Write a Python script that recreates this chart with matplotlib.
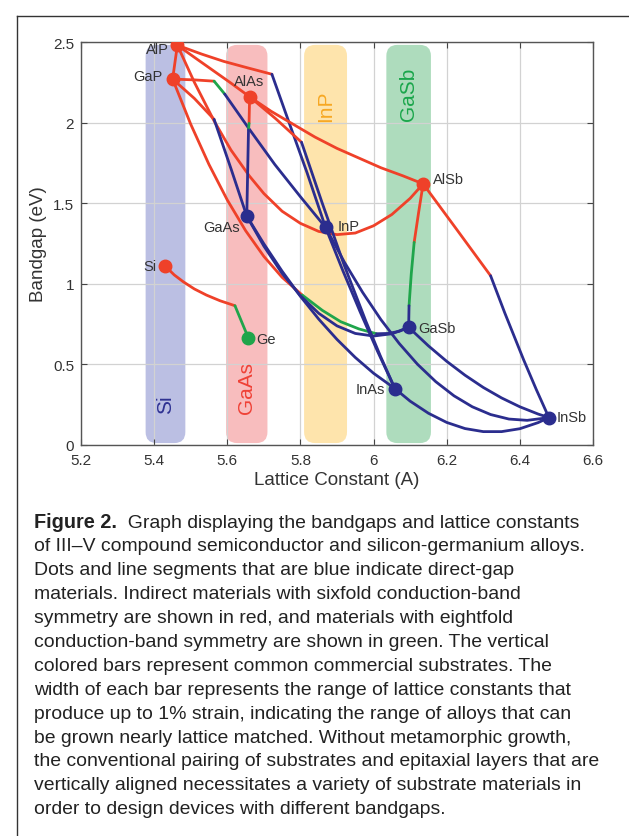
import matplotlib
matplotlib.use("Agg")
import matplotlib.pyplot as plt
from matplotlib.patches import FancyBboxPatch
from matplotlib.lines import Line2D

plt.rcParams['font.family'] = ['Liberation Sans', 'DejaVu Sans']

# ---------------- data ----------------
RED = '#ef4129'
BLUE = '#2b2d8e'
GREEN = '#1fa54b'

binary_names = ['AlP', 'GaP', 'AlAs', 'GaAs', 'InP', 'AlSb', 'GaSb', 'InAs', 'InSb', 'Si', 'Ge']
binary_a = [5.4635, 5.4505, 5.6611, 5.6533, 5.8687, 6.1355, 6.0959, 6.0583, 6.4794, 5.431, 5.658]
binary_eg = [2.48, 2.27, 2.16, 1.42, 1.35, 1.62, 0.73, 0.35, 0.17, 1.108, 0.662]
binary_color = ['r', 'r', 'r', 'b', 'b', 'r', 'b', 'b', 'b', 'r', 'g']
label_x = [5.44, 5.424, 5.659, 5.634, 5.902, 6.162, 6.121, 6.031, 6.50, 5.405, 5.68]
label_y = [2.455, 2.29, 2.26, 1.352, 1.36, 1.65, 0.726, 0.347, 0.174, 1.11, 0.66]
label_ha = ['right', 'right', 'center', 'right', 'left', 'left', 'left', 'right', 'left', 'right', 'left']

# alloy segments (lattice constant, bandgap)
AlGaP_r_x = [5.4635, 5.4505]; AlGaP_r_y = [2.48, 2.27]

AlInP_r_x = [5.4635, 5.53, 5.59, 5.655, 5.722]; AlInP_r_y = [2.48, 2.425, 2.38, 2.34, 2.30]
AlInP_b_x = [5.722, 5.7674, 5.818, 5.8687]; AlInP_b_y = [2.30, 2.01, 1.69, 1.35]

AlPAs_r_x = [5.4635, 5.51, 5.56, 5.61, 5.6611]; AlPAs_r_y = [2.48, 2.405, 2.325, 2.245, 2.16]

AlPSb_r_x = [5.4635, 5.51, 5.564, 5.61, 5.66, 5.70, 5.75, 5.80, 5.85, 5.90, 5.95, 6.00, 6.05, 6.10, 6.1355]
AlPSb_r_y = [2.48, 2.25, 2.01, 1.83, 1.67, 1.56, 1.45, 1.375, 1.325, 1.305, 1.315, 1.36, 1.43, 1.53, 1.62]

GaInP_r_x = [5.4505, 5.51, 5.564]; GaInP_r_y = [2.27, 2.265, 2.257]
GaInP_g_x = [5.564, 5.593]; GaInP_g_y = [2.257, 2.177]
GaInP_b_x = [5.593, 5.66, 5.73, 5.80, 5.8687]; GaInP_b_y = [2.177, 1.96, 1.74, 1.54, 1.35]

GaPAs_r_x = [5.4505, 5.51, 5.564]; GaPAs_r_y = [2.27, 2.15, 2.02]
GaPAs_b_x = [5.564, 5.61, 5.6533]; GaPAs_b_y = [2.02, 1.715, 1.42]

GaPSb_r_x = [5.4505, 5.50, 5.55, 5.60, 5.65, 5.70, 5.75, 5.805]
GaPSb_r_y = [2.27, 1.99, 1.74, 1.52, 1.33, 1.17, 1.04, 0.93]
GaPSb_g_x = [5.805, 5.86, 5.91, 5.96, 6.008]; GaPSb_g_y = [0.93, 0.835, 0.765, 0.72, 0.69]
GaPSb_b_x = [6.008, 6.04, 6.07, 6.0959]; GaPSb_b_y = [0.69, 0.692, 0.705, 0.73]

AlGaAs_r_x = [5.6611, 5.6595]; AlGaAs_r_y = [2.16, 1.995]
AlGaAs_g_x = [5.6595, 5.658]; AlGaAs_g_y = [1.995, 1.955]
AlGaAs_b_x = [5.658, 5.6533]; AlGaAs_b_y = [1.955, 1.42]

AlInAs_r_x = [5.6611, 5.732, 5.803]; AlInAs_r_y = [2.16, 2.025, 1.878]
AlInAs_b_x = [5.803, 5.8597, 5.9193, 5.9789, 6.0186, 6.0583]; AlInAs_b_y = [1.878, 1.50, 1.118, 0.768, 0.552, 0.35]

AlAsSb_r_x = [5.6611, 5.72, 5.78, 5.84, 5.90, 5.96, 6.02, 6.08, 6.1355]
AlAsSb_r_y = [2.16, 2.07, 1.99, 1.91, 1.84, 1.78, 1.72, 1.67, 1.62]

GaAsSb_b_x = [5.6533, 5.70, 5.75, 5.80, 5.85, 5.90, 5.95, 6.00, 6.05, 6.0959]
GaAsSb_b_y = [1.42, 1.234, 1.064, 0.926, 0.817, 0.739, 0.692, 0.676, 0.69, 0.73]

GaInAs_b_x = [5.6533, 5.70, 5.75, 5.80, 5.85, 5.90, 5.95, 6.00, 6.0583]
GaInAs_b_y = [1.42, 1.248, 1.078, 0.922, 0.781, 0.655, 0.543, 0.445, 0.35]

InPAs_b_x = [5.8687, 5.9161, 5.9635, 6.0109, 6.0583]; InPAs_b_y = [1.35, 1.081, 0.825, 0.581, 0.35]

InPSb_b_x = [5.8687, 5.92, 5.97, 6.02, 6.07, 6.12, 6.17, 6.22, 6.27, 6.32, 6.37, 6.42, 6.4794]
InPSb_b_y = [1.35, 1.135, 0.947, 0.778, 0.63, 0.501, 0.393, 0.305, 0.237, 0.189, 0.161, 0.153, 0.17]

InAsSb_b_x = [6.0583, 6.10, 6.15, 6.20, 6.25, 6.30, 6.35, 6.40, 6.45, 6.4794]
InAsSb_b_y = [0.35, 0.272, 0.197, 0.14, 0.102, 0.083, 0.083, 0.101, 0.139, 0.17]

GaInSb_b_x = [6.0959, 6.15, 6.20, 6.25, 6.30, 6.35, 6.40, 6.45, 6.4794]
GaInSb_b_y = [0.73, 0.615, 0.519, 0.433, 0.357, 0.292, 0.237, 0.192, 0.17]

AlGaSb_r_x = [6.1355, 6.123, 6.111]; AlGaSb_r_y = [1.62, 1.44, 1.257]
AlGaSb_g_x = [6.111, 6.103, 6.097]; AlGaSb_g_y = [1.257, 1.06, 0.864]
AlGaSb_b_x = [6.097, 6.0959]; AlGaSb_b_y = [0.864, 0.73]

AlInSb_r_x = [6.1355, 6.228, 6.32]; AlInSb_r_y = [1.62, 1.335, 1.05]
AlInSb_b_x = [6.32, 6.359, 6.4106, 6.445, 6.4794]; AlInSb_b_y = [1.05, 0.818, 0.527, 0.344, 0.17]

SiGe_r_x = [5.431, 5.455, 5.48, 5.51, 5.543, 5.58, 5.621]
SiGe_r_y = [1.108, 1.055, 1.012, 0.968, 0.93, 0.895, 0.864]
SiGe_g_x = [5.621, 5.658]; SiGe_g_y = [0.864, 0.662]

# substrate bars: center lattice constant, +/- 1 %
substrate_names = ['Si', 'GaAs', 'InP', 'GaSb']
substrate_a = [5.431, 5.6533, 5.8687, 6.0959]
substrate_fill = ['#b8bce2', '#f8babb', '#fee3a8', '#aadbba']
substrate_text_color = ['#2e3192', '#ef4136', '#f7a823', '#1aa64b']
substrate_text_y = [0.254, 0.36, 2.11, 2.18]

x_ticks = [5.2, 5.4, 5.6, 5.8, 6.0, 6.2, 6.4, 6.6]
x_ticklabels = ['5.2', '5.4', '5.6', '5.8', '6', '6.2', '6.4', '6.6']
y_ticks = [0, 0.5, 1, 1.5, 2, 2.5]
y_ticklabels = ['0', '0.5', '1', '1.5', '2', '2.5']

caption_bold = 'Figure 2.'
caption_lines = [
    '  Graph displaying the bandgaps and lattice constants',
    'of III\u2013V compound semiconductor and silicon-germanium alloys.',
    'Dots and line segments that are blue indicate direct-gap',
    'materials. Indirect materials with sixfold conduction-band',
    'symmetry are shown in red, and materials with eightfold',
    'conduction-band symmetry are shown in green. The vertical',
    'colored bars represent common commercial substrates. The',
    'width of each bar represents the range of lattice constants that',
    'produce up to 1% strain, indicating the range of alloys that can',
    'be grown nearly lattice matched. Without metamorphic growth,',
    'the conventional pairing of substrates and epitaxial layers that are',
    'vertically aligned necessitates a variety of substrate materials in',
    'order to design devices with different bandgaps.',
]

segments = [
    (AlGaP_r_x, AlGaP_r_y, 'r'),
    (AlInP_r_x, AlInP_r_y, 'r'), (AlInP_b_x, AlInP_b_y, 'b'),
    (AlPAs_r_x, AlPAs_r_y, 'r'),
    (AlPSb_r_x, AlPSb_r_y, 'r'),
    (GaInP_r_x, GaInP_r_y, 'r'), (GaInP_g_x, GaInP_g_y, 'g'), (GaInP_b_x, GaInP_b_y, 'b'),
    (GaPAs_r_x, GaPAs_r_y, 'r'), (GaPAs_b_x, GaPAs_b_y, 'b'),
    (GaPSb_r_x, GaPSb_r_y, 'r'), (GaPSb_g_x, GaPSb_g_y, 'g'), (GaPSb_b_x, GaPSb_b_y, 'b'),
    (AlGaAs_r_x, AlGaAs_r_y, 'r'), (AlGaAs_g_x, AlGaAs_g_y, 'g'), (AlGaAs_b_x, AlGaAs_b_y, 'b'),
    (AlInAs_r_x, AlInAs_r_y, 'r'), (AlInAs_b_x, AlInAs_b_y, 'b'),
    (AlAsSb_r_x, AlAsSb_r_y, 'r'),
    (GaAsSb_b_x, GaAsSb_b_y, 'b'),
    (GaInAs_b_x, GaInAs_b_y, 'b'),
    (InPAs_b_x, InPAs_b_y, 'b'),
    (InPSb_b_x, InPSb_b_y, 'b'),
    (InAsSb_b_x, InAsSb_b_y, 'b'),
    (GaInSb_b_x, GaInSb_b_y, 'b'),
    (AlGaSb_r_x, AlGaSb_r_y, 'r'), (AlGaSb_g_x, AlGaSb_g_y, 'g'), (AlGaSb_b_x, AlGaSb_b_y, 'b'),
    (AlInSb_r_x, AlInSb_r_y, 'r'), (AlInSb_b_x, AlInSb_b_y, 'b'),
    (SiGe_r_x, SiGe_r_y, 'r'), (SiGe_g_x, SiGe_g_y, 'g'),
]
cmap = {'r': RED, 'b': BLUE, 'g': GREEN}

# ---------------- figure ----------------
W, H = 629, 837
fig = plt.figure(figsize=(W / 100, H / 100), dpi=100)
fig.patch.set_facecolor('white')

# frame (left and top edges visible)
FX, FY = 17, 17
fig.add_artist(Line2D([FX / W, FX / W], [0, 1 - FY / H], color='#333333', lw=1.0))
fig.add_artist(Line2D([FX / W, 1], [1 - FY / H, 1 - FY / H], color='#333333', lw=1.0))

ax_l, ax_r, ax_t, ax_b = 81, 593, 43, 446
ax = fig.add_axes([ax_l / W, 1 - ax_b / H, (ax_r - ax_l) / W, (ax_b - ax_t) / H])
ax.set_xlim(5.2, 6.6)
ax.set_ylim(0, 2.5)
ax.set_axisbelow(True)
ax.grid(True, color='#d2d2d2', lw=0.9)

xpix = (ax_r - ax_l) / 1.4
ypix = (ax_b - ax_t) / 2.5
for name, a0, fc, tc, ty in zip(substrate_names, substrate_a, substrate_fill,
                                 substrate_text_color, substrate_text_y):
    lo, hi = a0 * 0.99, a0 * 1.01
    bar = FancyBboxPatch((lo, 0.012), hi - lo, 2.47,
                         boxstyle='round,pad=0,rounding_size=0.03',
                         mutation_aspect=xpix / ypix,
                         facecolor=fc, edgecolor='none', alpha=0.95, zorder=0.3)
    ax.add_patch(bar)
    ax.text(a0, ty, name, rotation=90, ha='center', va='center', color=tc,
            fontsize=15, zorder=1)

for xs, ys, c in segments:
    ax.plot(xs, ys, color=cmap[c], lw=2.0, solid_capstyle='round',
            solid_joinstyle='round', zorder=2)

for n, a, e, c, lx, ly, ha in zip(binary_names, binary_a, binary_eg, binary_color,
                                  label_x, label_y, label_ha):
    ax.plot([a], [e], 'o', color=cmap[c], ms=9, zorder=3)
    ax.text(lx, ly, n, ha=ha, va='center', fontsize=10.5, color='#333333', zorder=4)

ax.set_xticks(x_ticks)
ax.set_xticklabels(x_ticklabels)
ax.set_yticks(y_ticks)
ax.set_yticklabels(y_ticklabels)
ax.tick_params(direction='in', length=4, width=0.8, colors='#444444', labelcolor='#333333',
               labelsize=11, top=True, right=True)
ax.tick_params(axis='x', pad=6)
ax.tick_params(axis='y', pad=5)
for s in ax.spines.values():
    s.set_color('#555555')
    s.set_linewidth(1.0)
ax.set_xlabel('Lattice Constant (A)', fontsize=13.5, color='#333333', labelpad=3)
ax.set_ylabel('Bandgap (eV)', fontsize=13.5, color='#333333', labelpad=4)

# ---------------- caption ----------------
cap_x = 34 / W
cap_y0 = 523
cap_dy = 23.9
cap_fs = 13.95
renderer = fig.canvas.get_renderer()
tb = fig.text(cap_x, 1 - cap_y0 / H, caption_bold, fontsize=cap_fs + 0.4, fontweight='bold',
              va='center', ha='left', color='#222222')
bb = tb.get_window_extent(renderer=renderer)
fig.text(bb.x1 / W, 1 - cap_y0 / H, caption_lines[0], fontsize=cap_fs, va='center',
         ha='left', color='#222222')
for i, line in enumerate(caption_lines[1:], start=1):
    fig.text(cap_x, 1 - (cap_y0 + i * cap_dy) / H, line, fontsize=cap_fs, va='center',
             ha='left', color='#222222')

fig.savefig('out.png', dpi=100, facecolor='white')
